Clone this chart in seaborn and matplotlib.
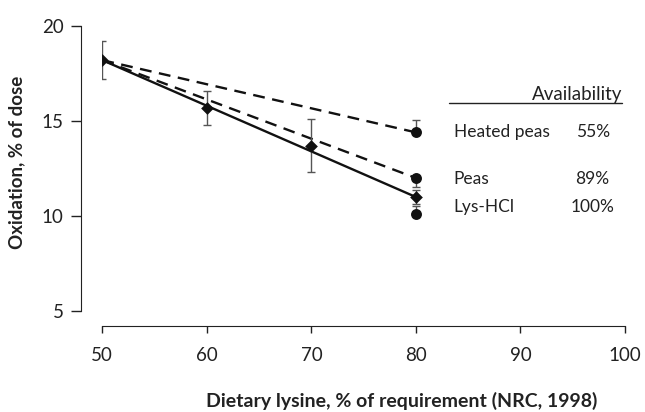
import pandas as pd
import matplotlib
matplotlib.use("Agg")
import matplotlib.pyplot as plt
import seaborn as sns

# lysine intake levels (% of NRC requirement)
lys_x = [50, 60, 70, 80]
lys_y = [18.2, 15.7, 13.7, 11.0]
lys_err = [1.0, 0.9, 1.4, 0.35]

# fitted lines, start and end points
heated_x = [50, 80]
heated_y = [18.2, 14.4]
peas_x = [50, 80]
peas_y = [18.2, 12.0]
fit_x = [50, 80]
fit_y = [18.2, 11.0]

# end points at 80 %
end_x = [80, 80, 80]
end_y = [14.4, 12.0, 10.1]
end_err_lo = [0.0, 0.45, 0.0]
end_err_hi = [0.65, 0.0, 0.45]

sources = ["Heated peas", "Peas", "Lys-HCl"]
availability = ["55%", "89%", "100%"]
label_y = [14.4, 11.95, 10.5]

xticks = [50, 60, 70, 80, 90, 100]
yticks = [5, 10, 15, 20]

sns.set_style("ticks")
plt.rcParams["font.family"] = ["Lato", "DejaVu Sans"]

fig = plt.figure(figsize=(6.45, 4.12), dpi=100)
ax = fig.add_axes([0.1586, 0.245, 0.8104, 0.692])

ink = "#111111"
dash = (5, 3.2)

sns.lineplot(x=heated_x, y=heated_y, ax=ax, color=ink, lw=1.7, linestyle=(0, dash))
sns.lineplot(x=peas_x, y=peas_y, ax=ax, color=ink, lw=1.7, linestyle=(0, dash))
sns.lineplot(x=fit_x, y=fit_y, ax=ax, color=ink, lw=1.7)

ax.errorbar(lys_x, lys_y, yerr=lys_err, fmt="none", ecolor="#555555",
            elinewidth=1.0, capsize=3, capthick=1.0, zorder=2)
ax.errorbar(end_x, end_y, yerr=[end_err_lo, end_err_hi], fmt="none",
            ecolor="#555555", elinewidth=1.0, capsize=3, capthick=1.0, zorder=2)

sns.scatterplot(x=end_x, y=end_y, ax=ax, color=ink, marker="o", s=62,
                edgecolor=ink, linewidth=0, zorder=4)
sns.scatterplot(x=lys_x, y=lys_y, ax=ax, color=ink, marker="D", s=42,
                edgecolor=ink, linewidth=0, zorder=5)

ax.set_xlim(50, 100)
ax.set_ylim(5, 20)
ax.set_xticks(xticks)
ax.set_yticks(yticks)
ax.tick_params(axis="both", labelsize=13.5, colors="#222222", length=5, width=1)
ax.tick_params(axis="x", pad=10)
ax.tick_params(axis="y", length=7, pad=6)
# the ends of the y axis carry no tick mark
for t in ax.yaxis.get_major_ticks():
    if t.get_loc() in (5, 20):
        t.tick1line.set_visible(False)

sns.despine(ax=ax, offset=dict(left=15, bottom=11))
ax.spines["left"].set_color("#222222")
ax.spines["bottom"].set_color("#222222")

ax.set_xlabel("Dietary lysine, % of requirement (NRC, 1998)", fontsize=14,
              fontweight="bold", color="#222222")
ax.set_ylabel("Oxidation, % of dose", fontsize=13.5, fontweight="bold",
              color="#222222")
ax.xaxis.set_label_coords(0.572, -0.285)
ax.yaxis.set_label_coords(-0.148, 0.52)

# availability table on the right
ax.text(95.4, 16.4, "Availability", fontsize=13.5, ha="center", va="center",
        color="#222222")
ax.plot([83.2, 99.7], [15.93, 15.93], color="#222222", lw=1, clip_on=False)
for name, pct, yy in zip(sources, availability, label_y):
    ax.text(83.6, yy, name, fontsize=12.5, ha="left", va="center", color="#222222")
    ax.text(96.9, yy, pct, fontsize=12.5, ha="center", va="center", color="#222222")

fig.savefig("out.png", dpi=100)
